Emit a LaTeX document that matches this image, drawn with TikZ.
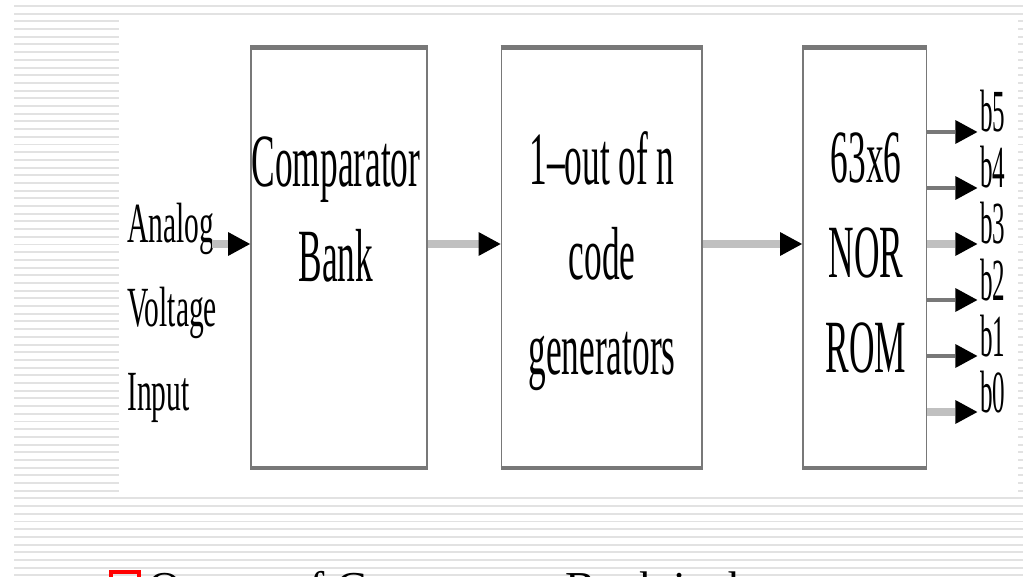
\documentclass[tikz,border=0pt]{standalone}
\usepackage{fontspec}
\setmainfont{Liberation Serif}
\usepackage{graphicx}
\usetikzlibrary{arrows.meta,
	calc,
	positioning}
\definecolor{boxgray}{HTML}{787878}
\definecolor{shaftlight}{HTML}{C0C0C0}
\definecolor{shaftdark}{HTML}{787878}
\definecolor{stripegray}{HTML}{E2E2E2}
\newcommand{\hsquash}[2]{\scalebox{#1}[1]{#2}}
\tikzstyle{blk}=[draw=boxgray, line width=1.1pt, inner sep=0]
\tikzstyle{blkedge}=[boxgray, line width=2.6pt]
\tikzstyle{boxtxt}=[inner sep=0, anchor=base, font=\fontsize{42.8}{53.9}\selectfont]
\tikzstyle{intxt}=[inner sep=0, anchor=base west, font=\fontsize{32.3}{47.6}\selectfont]
\tikzstyle{outtxt}=[inner sep=0, anchor=base west, font=\fontsize{34}{40}\selectfont]
\tikzstyle{sigl}=[draw=shaftlight, line width=4.5pt,
		-{Triangle[length=12.5pt, width=13.6pt, color=black, fill=black, line width=0pt]}]
\tikzstyle{sigd}=[sigl, draw=shaftdark, line width=2.8pt]
\tikzstyle{stripe}=[draw=stripegray, line width=1.1pt]

\begin{document}
\begin{tikzpicture}[x=0.02cm, y=-0.02cm]
                \useasboundingbox (0,0) rectangle (1023,577);
                \clip (0,0) rectangle (1023,577);
                % stripes
                \foreach \k in {0,1}
                    \draw[stripe] (14,{6+7.694*\k}) -- (1023,{6+7.694*\k});
                \foreach \k in {2,...,63} {
                    \draw[stripe] (14,{6+7.694*\k}) -- (119,{6+7.694*\k});
                    \draw[stripe] (1018,{6+7.694*\k}) -- (1023,{6+7.694*\k});
                }
                \foreach \k in {64,...,74}
                    \draw[stripe] (14,{6+7.694*\k}) -- (1023,{6+7.694*\k});
                % blocks
                \node[blk, minimum width=3.52cm, minimum height=8.37cm] (cmp) at (339,257.75) {};
                \node[blk, minimum width=4.01cm, minimum height=8.37cm] (gen) at (601.75,257.75) {};
                \node[blk, minimum width=2.47cm, minimum height=8.37cm] (rom) at (864.75,257.75) {};
                \foreach \b in {cmp,gen,rom} {
                    \draw[blkedge] (\b.north west) -- (\b.north east);
                    \draw[blkedge] (\b.south west) -- (\b.south east);
                }
                \node[boxtxt] (cmptxt) at (336,187) {\hsquash{0.47}{\begin{tabular}[t]{@{}c@{}}Comparator\\Bank\end{tabular}}};
                \node[boxtxt] (gentxt) at (602,185) {\hsquash{0.47}{\begin{tabular}[t]{@{}c@{}}1--out of n\\code\\generators\end{tabular}}};
                \node[boxtxt] (romtxt) at (866,183) {\hsquash{0.47}{\begin{tabular}[t]{@{}c@{}}63x6\\NOR\\ROM\end{tabular}}};
                \node[intxt] (ain) at (127,243) {\hsquash{0.52}{\begin{tabular}[t]{@{}l@{}}Analog\\Voltage\\Input\end{tabular}}};
                % signal path
                \coordinate (mid) at (0,244);
                \coordinate (ainend) at (212,244);
                \draw[sigl] (ainend) -- (cmp.west |- mid);
                \draw[sigl] (cmp.east |- mid) -- (gen.west |- mid);
                \draw[sigl] (gen.east |- mid) -- (rom.west |- mid);
                \foreach \n/\yy/\s in {5/132/sigd,4/188/sigd,3/244/sigl,2/300/sigd,1/356/sigd,0/412/sigl} {
                    \node[outtxt] (b\n) at (980,\yy) {\hsquash{0.42}{b\n}};
                    \draw[\s, shorten >=1.5pt] (rom.east |- b\n.base) -- (b\n.base west);
                }
                % bullet line
                \node[draw=red, line width=1.9pt, minimum size=0.56cm, inner sep=0] (bul) at (125,586) {};
                \node[inner sep=0, anchor=base west, font=\fontsize{26}{30}\selectfont] (note) at (148,603) {Output of Comparator Bank is the};
            \end{tikzpicture}
\end{document}
